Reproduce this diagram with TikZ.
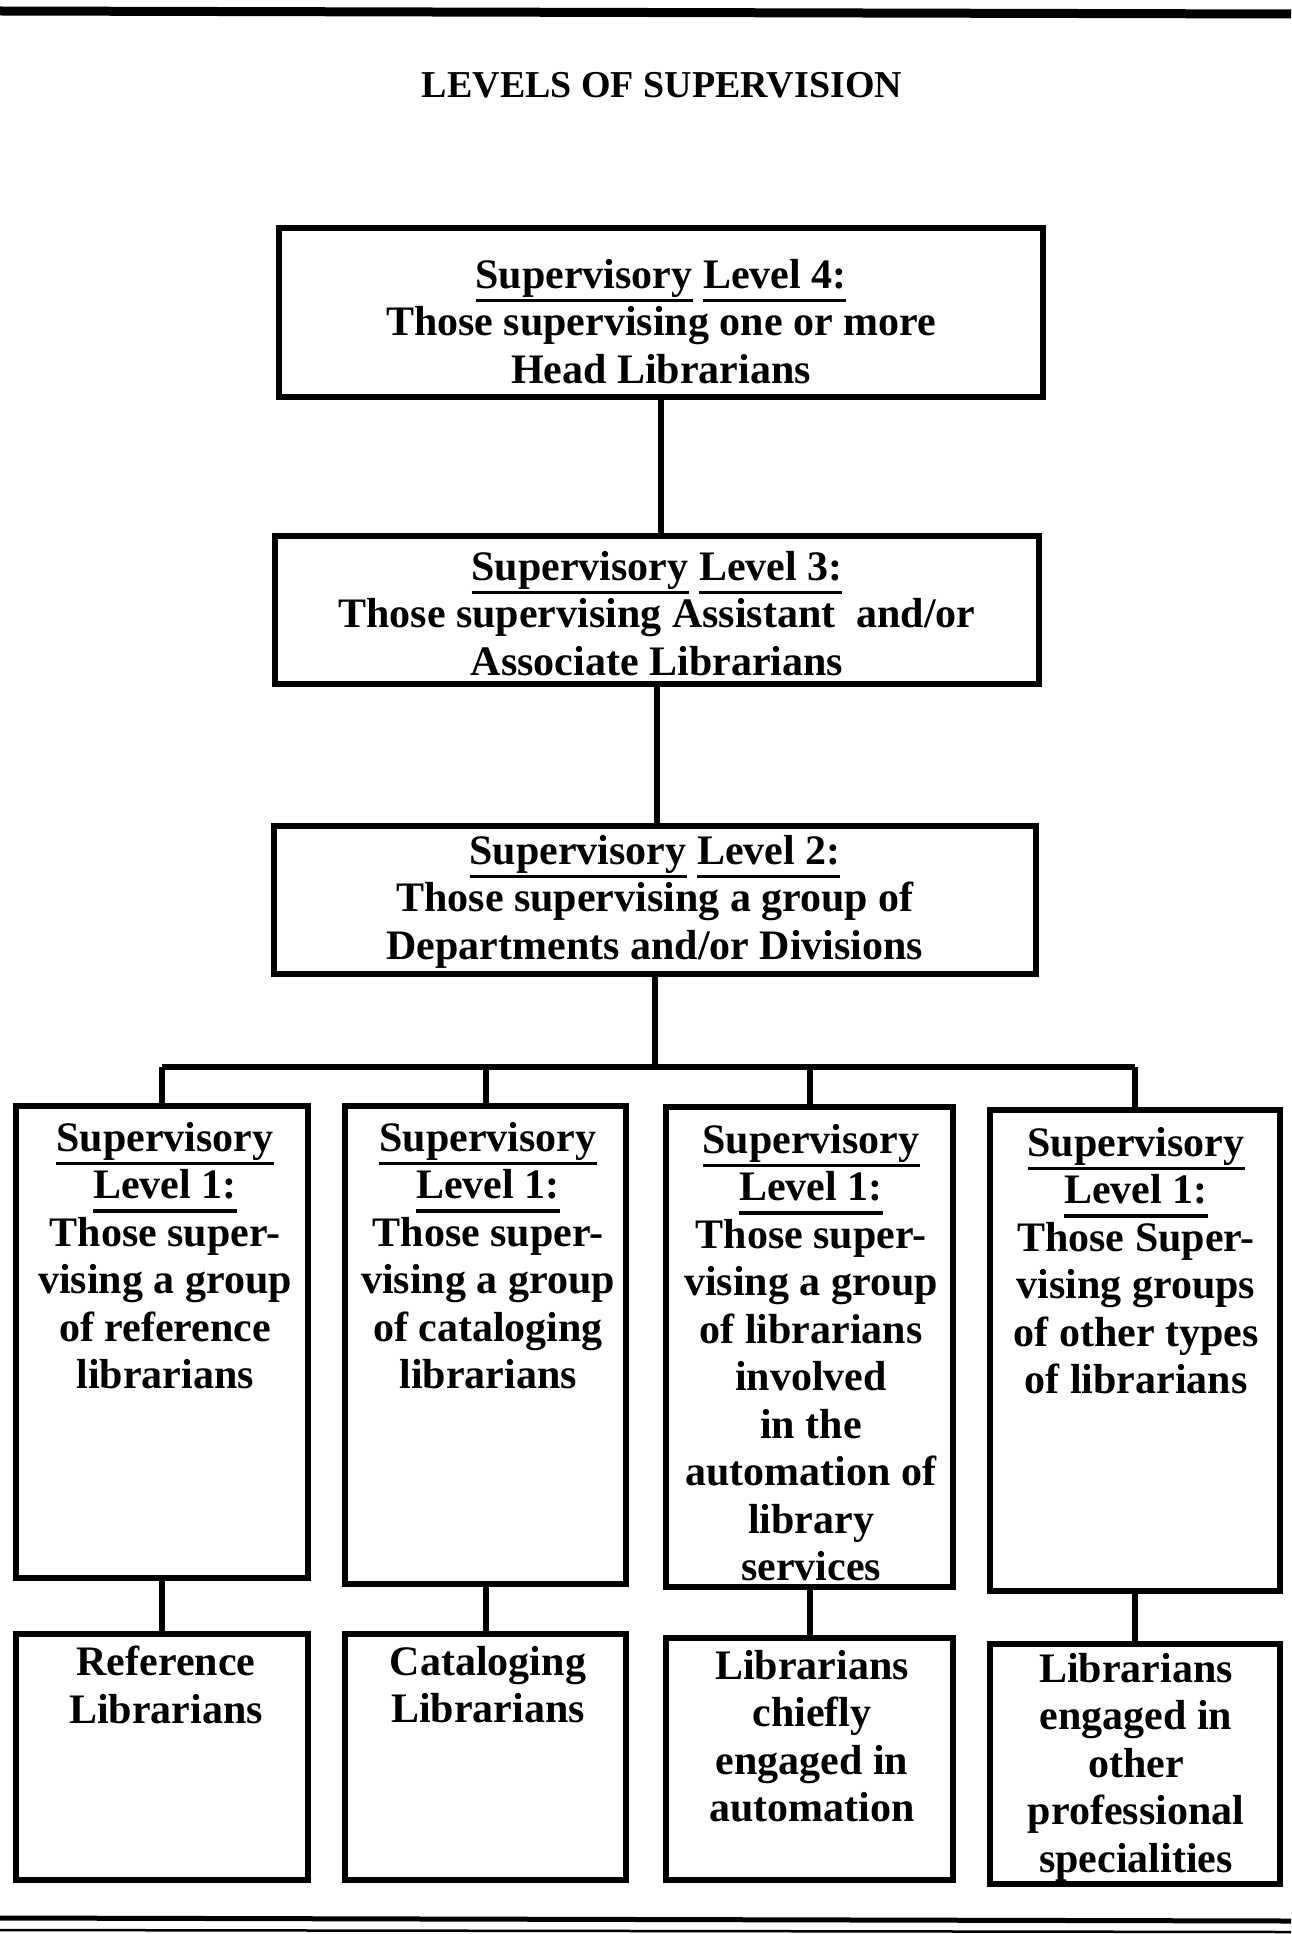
\documentclass[tikz,border=0pt]{standalone}
\usepackage{fontspec}
\setmainfont{Liberation Serif}
\newcommand\ulw[1]{\setbox0\hbox{#1}\rlap{\rule[-14pt]{\wd0}{3.5pt}}\box0}
\begin{document}
\begin{tikzpicture}[x=1pt,y=-1pt,
  boxst/.style={draw, line width=5.5pt, inner sep=0pt},
  txt/.style={anchor=north, inner sep=0pt, align=center, font=\fontsize{42}{47.5}\selectfont\bfseries},
  conn/.style={line width=6pt},
  rulest/.style={line width=#1}]
\useasboundingbox (0,0) rectangle (1291,1934);
\fill[white] (0,0) rectangle (1291,1934);
% rules
\coordinate (tl) at (0,11); \coordinate (tr) at (1291,14);
\draw[rulest=9pt] (tl) -- (tr);
\coordinate (bl) at (0,1918); \coordinate (br) at (1291,1921);
\draw[rulest=5pt] (bl) -- (br);
\coordinate (bl2) at (0,1930); \coordinate (br2) at (1291,1932);
\draw[rulest=2.5pt] (bl2) -- (br2);
% title
\node[anchor=base, inner sep=0pt, font=\fontsize{38}{44}\selectfont\bfseries] (title) at (662,98) {LEVELS OF SUPERVISION};
% upper boxes
\node[boxst, minimum width=764pt, minimum height=169pt] (b4) at (661,312.5) {};
\node[boxst, minimum width=764pt, minimum height=148pt] (b3) at (657,610) {};
\node[boxst, minimum width=762pt, minimum height=148pt] (b2) at (655,900) {};
\node[txt] (t4) at (661,259) {\ulw{Supervisory}~\ulw{Level 4:}\\Those supervising one or more\\Head Librarians};
\node[txt] (t3) at (657,551) {\ulw{Supervisory}~\ulw{Level 3:}\\Those supervising Assistant~ and/or\\Associate Librarians};
\node[txt] (t2) at (655,835) {\ulw{Supervisory}~\ulw{Level 2:}\\Those supervising a group of\\Departments and/or Divisions};
% level 1 boxes
\node[boxst, minimum width=292pt, minimum height=472pt] (a1) at (162,1342) {};
\node[boxst, minimum width=281pt, minimum height=478pt] (a2) at (485.5,1345) {};
\node[boxst, minimum width=287pt, minimum height=480pt] (a3) at (809.5,1347) {};
\node[boxst, minimum width=290pt, minimum height=481pt] (a4) at (1135,1350.5) {};
\node[txt] (s1) at (165,1122) {\ulw{Supervisory}\\\ulw{Level 1:}\\Those super-\\vising a group\\of reference\\librarians};
\node[txt] (s2) at (488,1122) {\ulw{Supervisory}\\\ulw{Level 1:}\\Those super-\\vising a group\\of cataloging\\librarians};
\node[txt] (s3) at (811,1124) {\ulw{Supervisory}\\\ulw{Level 1:}\\Those super-\\vising a group\\of librarians\\involved\\in the\\automation of\\library\\services};
\node[txt] (s4) at (1136,1127) {\ulw{Supervisory}\\\ulw{Level 1:}\\Those Super-\\vising groups\\of other types\\of librarians};
% bottom boxes
\node[boxst, minimum width=292pt, minimum height=246pt] (c1) at (162,1757) {};
\node[boxst, minimum width=281pt, minimum height=246pt] (c2) at (485.5,1757) {};
\node[boxst, minimum width=287pt, minimum height=242pt] (c3) at (809.5,1759) {};
\node[boxst, minimum width=290pt, minimum height=240pt] (c4) at (1135,1764) {};
\node[txt] (u1) at (166,1646) {Reference\\Librarians};
\node[txt] (u2) at (488,1646) {Cataloging\\Librarians};
\node[txt] (u3) at (812,1650) {Librarians\\chiefly\\engaged in\\automation};
\node[txt] (u4) at (1136,1653) {Librarians\\engaged in\\other\\professional\\specialities};
% connectors
\coordinate (bus) at (657,1067);
\draw[conn] (b4.south) -- (b4.south |- b3.north);
\draw[conn] (b3.south) -- (b3.south |- b2.north);
\draw[conn] (b2.south) -- (b2.south |- bus);
\draw[conn] (a1.north |- bus) -- (a4.north |- bus);
\draw[conn] (a1.north |- bus) -- (a1.north);
\draw[conn] (a2.north |- bus) -- (a2.north);
\draw[conn] (a3.north |- bus) -- (a3.north);
\draw[conn] (a4.north |- bus) -- (a4.north);
\draw[conn] (a1.south) -- (c1.north);
\draw[conn] (a2.south) -- (c2.north);
\draw[conn] (a3.south) -- (c3.north);
\draw[conn] (a4.south) -- (c4.north);
\end{tikzpicture}
\end{document}
